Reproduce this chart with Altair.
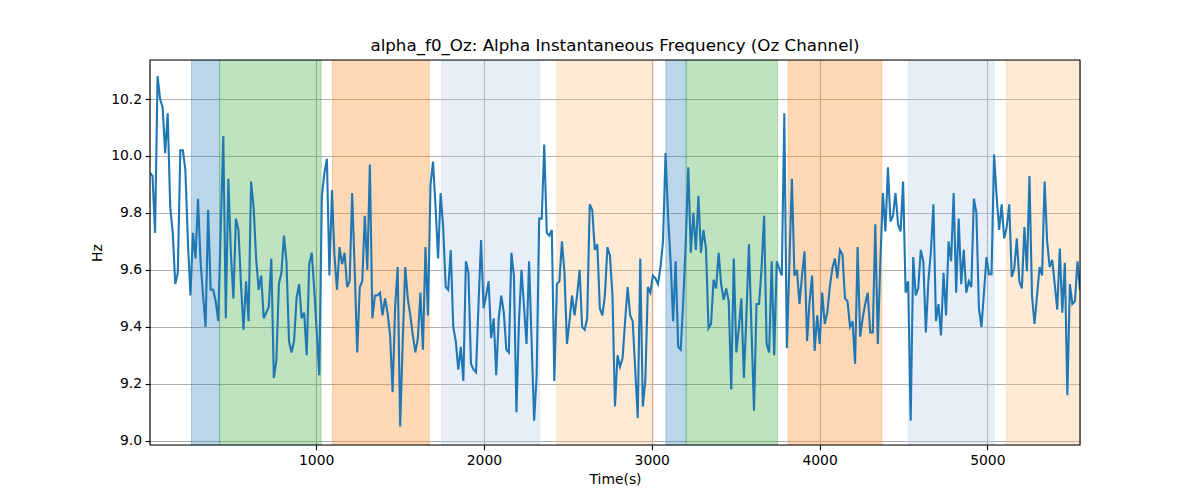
import altair as alt
import pandas as pd

# Alpha instantaneous frequency (Hz), in order of time
hz_part1 = [9.94, 9.93, 9.73, 10.28, 10.20, 10.17, 10.01, 10.15, 9.82, 9.73,
            9.55, 9.59, 10.02, 10.02, 9.95, 9.70, 9.51, 9.73, 9.64, 9.85,
            9.63, 9.51, 9.40, 9.81, 9.53, 9.53, 9.49, 9.42, 9.75, 10.07,
            9.43, 9.92, 9.66, 9.50, 9.78, 9.74, 9.55, 9.39, 9.56, 9.42,
            9.91, 9.82, 9.64, 9.53, 9.58, 9.43, 9.45, 9.47, 9.64, 9.22,
            9.28, 9.55, 9.59, 9.72, 9.63, 9.35, 9.31, 9.35, 9.50, 9.55,
            9.43, 9.45, 9.30]
hz_part2 = [9.62, 9.66, 9.53, 9.38, 9.23, 9.86, 9.94, 9.99, 9.58, 9.88,
            9.65, 9.53, 9.68, 9.62, 9.66, 9.54, 9.56, 9.87, 9.60, 9.31,
            9.54, 9.56, 9.79, 9.60, 9.97, 9.43, 9.51, 9.51, 9.52, 9.44,
            9.50, 9.45, 9.37, 9.17, 9.47, 9.61, 9.05, 9.35, 9.61, 9.50,
            9.44, 9.37, 9.31, 9.36, 9.52, 9.32, 9.68, 9.44, 9.90, 9.98,
            9.82, 9.64, 9.87, 9.75, 9.54, 9.53, 9.67, 9.40, 9.35, 9.25,
            9.33, 9.21, 9.63, 9.59]
hz_part3 = [9.27, 9.25, 9.24, 9.48, 9.705, 9.465, 9.51, 9.56, 9.36, 9.43,
            9.23, 9.43, 9.51, 9.45, 9.32, 9.31, 9.66, 9.58, 9.10, 9.42,
            9.60, 9.47, 9.34, 9.63, 9.35, 9.07, 9.23, 9.78, 9.78, 10.04,
            9.73, 9.72, 9.74, 9.21, 9.55, 9.56, 9.70, 9.59, 9.34, 9.42,
            9.51, 9.44, 9.51, 9.60, 9.40, 9.39, 9.43, 9.83, 9.81, 9.67,
            9.69, 9.465, 9.44, 9.51, 9.68, 9.65, 9.51, 9.12, 9.30, 9.26,
            9.29, 9.42, 9.54, 9.44]
hz_part4 = [9.42, 9.25, 9.08, 9.64, 9.12, 9.21, 9.54, 9.52, 9.58, 9.57,
            9.55, 9.61, 9.70, 10.01, 9.79, 9.63, 9.42, 9.63, 9.33, 9.32,
            9.49, 9.70, 9.96, 9.66, 9.80, 9.67, 9.86, 9.66, 9.74, 9.675,
            9.395, 9.41, 9.565, 9.535, 9.66, 9.55, 9.495, 9.535, 9.49, 9.18,
            9.64, 9.31, 9.395, 9.50, 9.22, 9.44, 9.69, 9.395, 9.105, 9.48,
            9.48, 9.605, 9.79, 9.34, 9.31, 9.63, 9.30, 9.63, 9.605, 9.58,
            10.15, 9.325, 9.62]
hz_part5 = [9.92, 9.58, 9.60, 9.48, 9.58, 9.665, 9.35, 9.49, 9.58, 9.315,
            9.44, 9.34, 9.52, 9.41, 9.45, 9.54, 9.605, 9.64, 9.57, 9.67,
            9.655, 9.50, 9.49, 9.40, 9.42, 9.27, 9.68, 9.365, 9.43, 9.48,
            9.52, 9.38, 9.38, 9.76, 9.34, 9.63, 9.87, 9.735, 9.96, 9.77,
            9.79, 9.87, 9.76, 9.735, 9.91, 9.52, 9.56, 9.07, 9.645, 9.51,
            9.535, 9.67, 9.63, 9.38, 9.56, 9.665, 9.83, 9.42, 9.48, 9.37,
            9.59, 9.44, 9.70]
hz_part6 = [9.63, 9.87, 9.52, 9.78, 9.55, 9.67, 9.52, 9.56, 9.54, 9.85,
            9.80, 9.465, 9.40, 9.52, 9.645, 9.585, 9.585, 10.005, 9.86, 9.74,
            9.83, 9.71, 9.75, 9.83, 9.575, 9.605, 9.71, 9.56, 9.535, 9.75,
            9.595, 9.93, 9.51, 9.41, 9.51, 9.61, 9.58, 9.91, 9.70, 9.61,
            9.635, 9.55, 9.46, 9.675, 9.45, 9.625, 9.16, 9.55, 9.48, 9.49,
            9.63, 9.53]

hz = hz_part1 + hz_part2 + hz_part3 + hz_part4 + hz_part5 + hz_part6
t_start = 10.0
t_step = 15.06
times = [round(t_start + t_step * i, 2) for i in range(len(hz))]
t_end = times[-1]

# Shaded task / condition intervals (seconds)
band_start = [257, 425, 1097, 1748, 2434, 3084, 3205, 3812, 4530, 5113]
band_end = [425, 1030, 1674, 2332, 3009, 3205, 3750, 4371, 5041, 5600]
band_color = ["#1f77b4", "#2ca02c", "#ff7f0e", "#aec7e8", "#ffbb78",
              "#1f77b4", "#2ca02c", "#ff7f0e", "#aec7e8", "#ffbb78"]

x_ticks = [1000, 2000, 3000, 4000, 5000]
y_ticks = [9.0, 9.2, 9.4, 9.6, 9.8, 10.0, 10.2]

df = pd.DataFrame({"time": times, "hz": hz})
bands = pd.DataFrame({"start": band_start, "end": band_end, "color": band_color})
frame_df = pd.DataFrame({"frame": [1]})

FONT = "DejaVu Sans"
xscale = alt.Scale(domain=[t_start, t_end], nice=False, zero=False)
yscale = alt.Scale(domain=[8.985, 10.337], nice=False, zero=False)

xaxis = alt.Axis(values=x_ticks, format="d", title="Time(s)", grid=True,
                 gridColor="#b0b0b0", gridWidth=1.1, domain=False,
                 tickColor="black", tickWidth=1.1, tickSize=4.9,
                 labelPadding=3.5, labelFont=FONT, labelFontSize=13.9,
                 labelColor="black", titleFont=FONT, titleFontSize=13.9,
                 titleFontWeight="normal", titleColor="black", titlePadding=5)
yaxis = alt.Axis(values=y_ticks, format=".1f", title="Hz", grid=True,
                 gridColor="#b0b0b0", gridWidth=1.1, domain=False,
                 tickColor="black", tickWidth=1.1, tickSize=4.9,
                 labelPadding=3.5, labelFont=FONT, labelFontSize=13.9,
                 labelColor="black", titleFont=FONT, titleFontSize=13.9,
                 titleFontWeight="normal", titleColor="black", titlePadding=6)

rects = alt.Chart(bands).mark_rect(
    fillOpacity=0.3, strokeOpacity=0.3, strokeWidth=1, clip=True
).encode(
    x=alt.X("start:Q", scale=xscale, axis=xaxis),
    x2="end:Q",
    color=alt.Color("color:N", scale=None),
    stroke=alt.Stroke("color:N", scale=None),
)

line = alt.Chart(df).mark_line(color="#1f77b4", strokeWidth=2.1, clip=True).encode(
    x=alt.X("time:Q", scale=xscale, axis=xaxis),
    y=alt.Y("hz:Q", scale=yscale, axis=yaxis),
)

frame = alt.Chart(frame_df).mark_rect(
    fillOpacity=0, stroke="black", strokeWidth=1.1
).encode(
    x=alt.value(0), x2=alt.value("width"),
    y=alt.value(0), y2=alt.value("height"),
)

chart = alt.layer(rects, line, frame).properties(
    width=930,
    height=385,
    title=alt.TitleParams(
        "alpha_f0_Oz: Alpha Instantaneous Frequency (Oz Channel)",
        font=FONT, fontSize=16.7, fontWeight="normal", color="black",
        baseline="alphabetic", offset=-8,
    ),
    autosize=alt.AutoSizeParams(type="none"),
    padding={"left": 142, "top": 52, "right": 104, "bottom": 45},
).configure_view(stroke="black", strokeWidth=1.1).configure(background="white")

chart.save("out.html", embed_options={"renderer": "svg", "actions": False})
